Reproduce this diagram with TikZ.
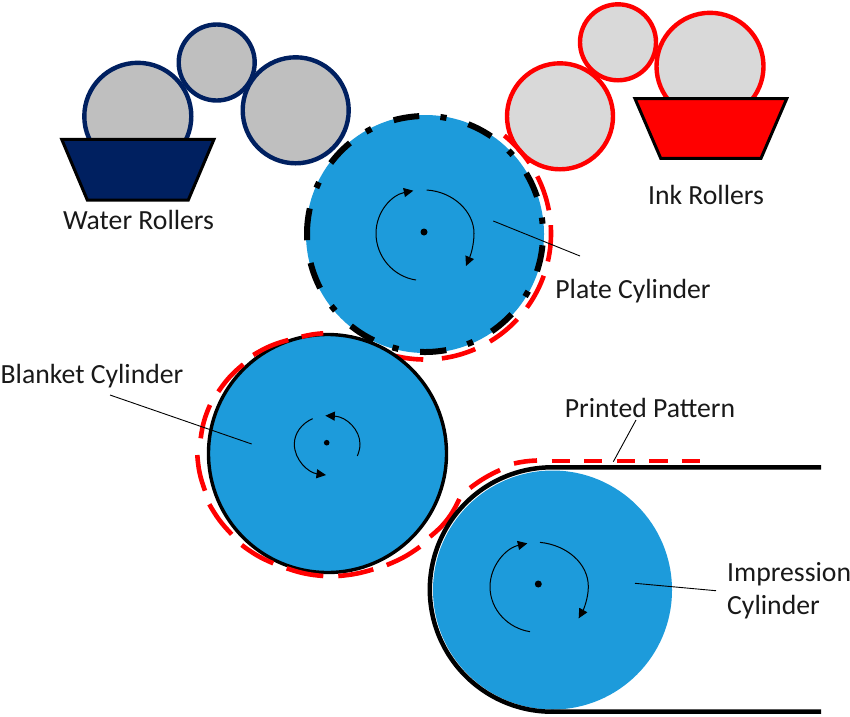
\documentclass[tikz,border=0pt]{standalone}
\usepackage{fontspec}
\setmainfont{Carlito}
\usetikzlibrary{arrows.meta}
\definecolor{cylblue}{HTML}{1D9BDB}
\definecolor{navyc}{HTML}{002060}
\definecolor{graya}{HTML}{BFBFBF}
\definecolor{grayb}{HTML}{D9D9D9}
\tikzset{
  x=1pt,y=-1pt,
  waterroller/.style={draw=navyc,fill=graya,line width=4.4pt},
  inkroller/.style={draw=red,fill=grayb,line width=4.4pt},
  tray/.style={draw=black,line width=3pt,line join=miter},
  cyl/.style={fill=cylblue},
  reddash/.style={draw=red,line width=4.6pt},
  blackdash/.style={draw=black,line width=6pt},
  belt/.style={draw=black,line width=4.5pt},
  leader/.style={draw=black,line width=0.9pt},
  rot/.style={draw=black,line width=1pt},
  rottip/.style={rot,-{Triangle[length=9.5pt,width=9pt]}},
  lab/.style={font=\fontsize{27.7}{33}\selectfont,inner sep=0pt,text=black!90},
  zoomA/.style={shift={(280pt,-90pt)},x=0.33333pt,y=-0.33333pt},
  zoomB/.style={shift={(190pt,-320pt)},x=0.33333pt,y=-0.33333pt},
  zoomC/.style={shift={(420pt,-440pt)},x=0.33333pt,y=-0.33333pt},
}
\begin{document}
\begin{tikzpicture}
\useasboundingbox (0,0) rectangle (850,716);
\fill[white] (0,0) rectangle (850,716);

% water rollers
\draw[waterroller] (137.8,116.3) circle[radius=53.5pt];
\draw[waterroller] (295.7,110.3) circle[radius=53pt];
\draw[waterroller] (216.7,62.5) circle[radius=38pt];
\draw[tray,fill=navyc] (61.7,139.3) -- (214,139.3) -- (188.3,200) -- (87.3,200) -- cycle;
% ink rollers
\draw[inkroller] (710,66.3) circle[radius=53.5pt];
\draw[inkroller] (560,116.3) circle[radius=53pt];
\draw[inkroller] (618,42.3) circle[radius=38pt];
\draw[tray,fill=red] (635,98.7) -- (786.7,98.7) -- (761,158.3) -- (660.7,158.3) -- cycle;

% plate cylinder
\fill[cyl] (425,234) circle[radius=119pt];
\foreach \a/\b in {92.8/105.4,79.5/82.5,55.9/68.5,42/45,18.4/31,5/8,-18.4/-5.5,-32/-29,-55.6/-42.8,-69/-66,-92.4/-79.6,-106/-103,-128.8/-115.8,-142.5/-139.5,194.2/207.3,167.5/183,154/157,129.5/143,117/120}
  \draw[blackdash] plot[domain=\a:\b,samples=14,smooth,variable=\t] ({425+118*cos(\t)},{234-118*sin(\t)});
\foreach \a/\b in {34/51,10.6/27,-12.8/3.8,-36/-19.6,-59/-42.9,-82.3/-66.5,-105.7/-90.8,-122.8/-113}
  \draw[reddash] plot[domain=\a:\b,samples=14,smooth,variable=\t] ({425+126*cos(\t)},{233.5-126*sin(\t)});

% blanket cylinder
\draw[cyl,draw=black,line width=3.4pt] (327.5,453.5) circle[radius=119pt];
\draw[reddash] (459.3,499) to[bend left=13] (430,536.7);
\draw[reddash] (420,546.7) to[bend left=7] (386.7,565);
\draw[reddash] (373.3,569.3) to[bend left=6] (338.3,576);
\draw[reddash] (323.3,576) to[bend left=7] (286.7,568.3);
\draw[reddash] (273.3,563.3) to[bend left=7] (241.7,545);
\draw[reddash] (231.7,534.3) to[bend left=7] (209.3,504.3);
\draw[reddash] (205,490.7) to[bend left=8] (197.3,455);
\draw[reddash] (200.7,438.3) to[bend left=8] (210,405);
\draw[reddash] (218.3,391.7) to[bend left=8] (243.3,364.3);
\draw[reddash] (253.3,355) to[bend left=8] (288.3,340);
\draw[reddash] (301.7,336.7) to[bend left=5] (323.3,333.3);

% impression cylinder and web
\fill[cyl] (552.5,590) circle[radius=119.5pt];
\draw[belt] (821,467.3) -- (552,467.3) -- plot[domain=90:270,samples=60,smooth,variable=\t] ({552+122.2*cos(\t)},{589.5-122.2*sin(\t)}) -- (821,711.7);
\draw[reddash] (470,488) to[bend left=6] (500,470);
\draw[reddash] (514,463.5) to[bend left=5] (537,460.5);
\foreach \a/\b in {551.7/570,584/602,616.7/635,649/667.7,681.7/700}
  \draw[reddash] (\a,461) -- (\b,461);

% rotation arrows
\fill (424,232) circle[radius=3.5pt];
\begin{scope}[zoomA]
\draw[rottip] (408,570) .. controls (340,560) and (288,500) .. (288,430) .. controls (288,365) and (335,315) .. (400,302);
\draw[rottip] (440,300) .. controls (520,305) and (582,365) .. (582,430) .. controls (582,465) and (572,495) .. (558,528);
\end{scope}
\fill (326.7,442.7) circle[radius=2.8pt];
\begin{scope}[zoomB]
\draw[rottip] (368,296) .. controls (335,310) and (313,340) .. (313,372) .. controls (313,420) and (355,458) .. (408,465);
\draw[rottip] (502,408) .. controls (507,395) and (510,385) .. (510,372) .. controls (510,330) and (470,290) .. (406,287);
\end{scope}
\fill (538.3,584) circle[radius=3.5pt];
\begin{scope}[zoomC]
\draw[rottip] (330,575) .. controls (265,565) and (210,510) .. (210,440) .. controls (210,380) and (255,325) .. (322,310);
\draw[rottip] (360,307) .. controls (440,315) and (505,370) .. (505,440) .. controls (505,475) and (490,510) .. (476,535);
\end{scope}

% labels
\node[lab] (water) at (138.5,220) {Water Rollers};
\node[lab] (ink) at (706,195) {Ink Rollers};
\node[lab] (plate) at (633,291.5) {Plate Cylinder};
\node[lab] (blanket) at (92,376.5) {Blanket Cylinder};
\node[lab] (printed) at (650,408) {Printed Pattern};
\node[lab,align=left,anchor=west] (impression) at (727,591) {Impression\\Cylinder};

% leaders
\coordinate (plateend) at (493.3,221);
\coordinate (platelab) at (580,256);
\coordinate (blanketend) at (251.7,444);
\coordinate (blanketlab) at (110,395);
\coordinate (impend) at (635,583.3);
\coordinate (implab) at (716,590.7);
\coordinate (prend) at (613.3,461.7);
\coordinate (prlab) at (636,420);
\draw[leader] (plateend) -- (platelab);
\draw[leader] (blanketend) -- (blanketlab);
\draw[leader] (impend) -- (implab);
\draw[leader] (prend) -- (prlab);
\end{tikzpicture}
\end{document}
